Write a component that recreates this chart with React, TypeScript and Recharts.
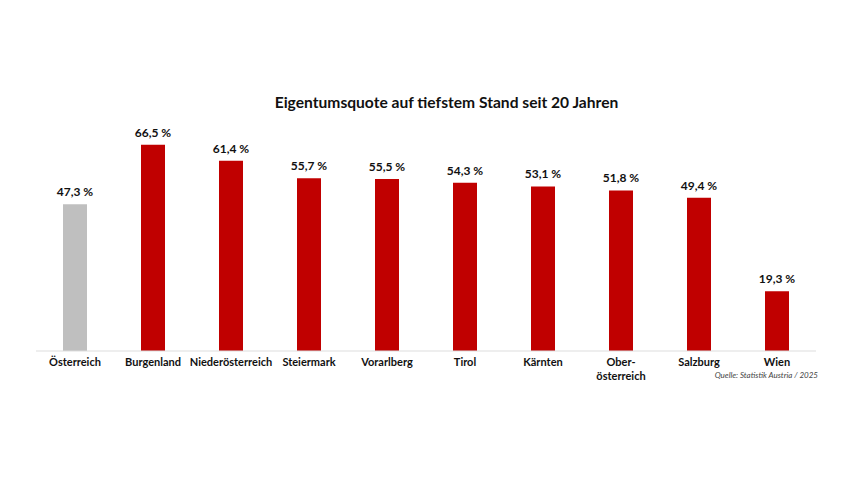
import React from 'react';
import { BarChart, Bar, XAxis, YAxis, Cell, LabelList } from 'recharts';

const categories = ['Österreich', 'Burgenland', 'Niederösterreich', 'Steiermark', 'Vorarlberg', 'Tirol', 'Kärnten', 'Ober-\nösterreich', 'Salzburg', 'Wien'];
const values = [47.3, 66.5, 61.4, 55.7, 55.5, 54.3, 53.1, 51.8, 49.4, 19.3];
const highlight = [true, false, false, false, false, false, false, false, false, false];

const data = categories.map((c, i) => ({ name: c, value: values[i] }));

const FONT = 'Lato, "Open Sans", sans-serif';

const Tick = (props: any) => {
  const { x, y, payload } = props;
  const lines = String(payload.value).split('\n');
  return (
    <g transform={`translate(${x},${y})`}>
      {lines.map((l: string, i: number) => (
        <text key={i} x={0} y={0} dy={9 + i * 14} textAnchor="middle" fill="#111" fontSize={11} fontWeight={700} fontFamily={FONT}>
          {l}
        </text>
      ))}
    </g>
  );
};

const ValueLabel = (props: any) => {
  const { x, y, width, value } = props;
  return (
    <text x={x + width / 2} y={y - 8} textAnchor="middle" fill="#111" fontSize={12} fontWeight={700} fontFamily={FONT}>
      {`${String(value).replace('.', ',')} %`}
    </text>
  );
};

export default function App() {
  return (
    <div style={{ position: 'absolute', left: 0, top: 0, width: 853, height: 480, background: '#fff' }}>
      <div style={{ position: 'absolute', left: 20, width: 853, top: 93, textAlign: 'center', fontFamily: FONT, fontWeight: 700, fontSize: 15.6, color: '#111' }}>
        Eigentumsquote auf tiefstem Stand seit 20 Jahren
      </div>
      <BarChart width={853} height={480} data={data} margin={{ top: 134, right: 37, bottom: 99, left: 36 }}>
        <YAxis hide domain={[0, 70]} />
        <XAxis dataKey="name" interval={0} tickLine={false} axisLine={{ stroke: '#dddddd' }} height={30} tick={<Tick />} tickMargin={0} />
        <Bar dataKey="value" barSize={24} isAnimationActive={false}>
          {data.map((d, i) => (
            <Cell key={i} fill={highlight[i] ? '#BFBFBF' : '#C00000'} />
          ))}
          <LabelList dataKey="value" content={<ValueLabel />} />
        </Bar>
      </BarChart>
      <div style={{ position: 'absolute', right: 35, top: 370, fontFamily: FONT, fontStyle: 'italic', fontSize: 8, color: '#444' }}>
        Quelle: Statistik Austria / 2025
      </div>
    </div>
  );
}
